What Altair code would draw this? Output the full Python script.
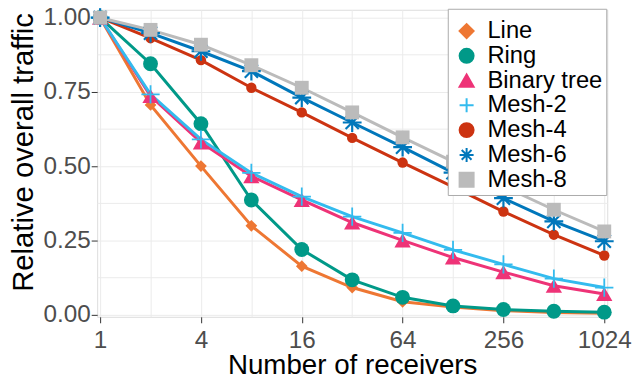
import altair as alt
import pandas as pd

receivers = [1, 2, 4, 8, 16, 32, 64, 128, 256, 512, 1024]
series_names = ["Line", "Ring", "Binary tree", "Mesh-2", "Mesh-4", "Mesh-6", "Mesh-8"]

line_vals = [1.0, 0.706, 0.500, 0.299, 0.163, 0.091, 0.043, 0.025, 0.013, 0.007, 0.004]
ring_vals = [1.0, 0.845, 0.643, 0.386, 0.219, 0.117, 0.058, 0.029, 0.017, 0.011, 0.008]
binary_vals = [1.0, 0.736, 0.580, 0.466, 0.386, 0.310, 0.250, 0.192, 0.143, 0.097, 0.069]
mesh2_vals = [1.0, 0.742, 0.590, 0.477, 0.397, 0.330, 0.275, 0.218, 0.169, 0.121, 0.091]
mesh4_vals = [1.0, 0.931, 0.857, 0.764, 0.681, 0.595, 0.512, 0.430, 0.347, 0.269, 0.199]
mesh6_vals = [1.0, 0.948, 0.887, 0.820, 0.731, 0.647, 0.564, 0.478, 0.392, 0.314, 0.247]
mesh8_vals = [1.0, 0.959, 0.909, 0.840, 0.764, 0.681, 0.597, 0.515, 0.432, 0.353, 0.280]

all_vals = [line_vals, ring_vals, binary_vals, mesh2_vals, mesh4_vals, mesh6_vals, mesh8_vals]

colors = ["#EE7733", "#009988", "#EE3377", "#33BBEE", "#CC3311", "#0077BB", "#BBBBBB"]
PLUS = "M-1,0L1,0M0,-1L0,1"
STAR = "M-1,0L1,0M0,-1L0,1M-0.7,-0.7L0.7,0.7M-0.7,0.7L0.7,-0.7"
shapes = ["diamond", "circle", "triangle-up", PLUS, "circle", STAR, "square"]
marker_sizes = [140, 225, 270, 340, 110, 360, 196]
marker_strokes = [0, 0, 0, 1.8, 0, 2.2, 0]

rows = []
for name, vals in zip(series_names, all_vals):
    for xv, yv in zip(receivers, vals):
        rows.append({"series": name, "receivers": xv, "traffic": yv})
df = pd.DataFrame(rows)

FONT = "Liberation Sans"

x_enc = alt.X(
    "receivers:Q",
    scale=alt.Scale(type="log", base=2, domain=[0.96, 1067], nice=False),
    axis=alt.Axis(
        title="Number of receivers",
        values=receivers,
        format="d",
        labelExpr="(round(log(datum.value)/log(2)) % 2 == 0) ? datum.label : ''",
        labelOverlap=False,
        labelFlush=False,
        grid=True,
        gridColor="#EBEBEB",
        gridWidth=1,
        domain=False,
        ticks=True,
        tickSize=6,
        tickColor="#333333",
        tickOpacity={"condition": {"test": "round(log(datum.value)/log(2)) % 2 == 0", "value": 1}, "value": 0},
        labelFont=FONT,
        labelFontSize=24.5,
        labelColor="#4D4D4D",
        labelBaseline="alphabetic",
        labelPadding=25,
        titleFont=FONT,
        titleFontSize=28,
        titleFontWeight="normal",
        titleColor="#000000",
        titleBaseline="alphabetic",
        titleY=57,
    ),
)

y_enc = alt.Y(
    "traffic:Q",
    scale=alt.Scale(domain=[-0.0077, 1.0267], nice=False, zero=False),
    axis=alt.Axis(
        title="Relative overall traffic",
        values=[0, 0.125, 0.25, 0.375, 0.5, 0.625, 0.75, 0.875, 1.0],
        labelExpr="(round(datum.value*8) % 2 == 0) ? format(datum.value, '.2f') : ''",
        labelOverlap=False,
        labelFlush=False,
        grid=True,
        gridColor="#EBEBEB",
        gridWidth=1,
        domain=False,
        ticks=True,
        tickSize=6,
        tickColor="#333333",
        tickOpacity={"condition": {"test": "round(datum.value*8) % 2 == 0", "value": 1}, "value": 0},
        labelFont=FONT,
        labelFontSize=24.5,
        labelColor="#4D4D4D",
        labelPadding=1,
        titleFont=FONT,
        titleFontSize=29.5,
        titleFontWeight="normal",
        titleColor="#000000",
        titleAngle=270,
        titleAlign="center",
        titleBaseline="alphabetic",
        titleX=-65.5,
        titleY=143.5,
    ),
)

color_scale = alt.Scale(domain=series_names, range=colors)
stroke_scale = alt.Scale(domain=series_names, range=colors)
shape_scale = alt.Scale(domain=series_names, range=shapes)

legend = alt.Legend(
    title=" ",
    titleFontSize=7.5,
    titlePadding=0,
    orient="none",
    legendX=354,
    legendY=-1,
    labelFont=FONT,
    labelFontSize=24,
    labelColor="#000000",
    labelOffset=9,
    padding=3,
    symbolOffset=4,
    rowPadding=1,
    symbolSize=200,
    symbolStrokeWidth=2,
    strokeColor="#AAAAAA",
    fillColor="#FFFFFF",
)

color_enc = alt.Color("series:N", scale=color_scale, sort=series_names, legend=legend)
stroke_enc = alt.Stroke("series:N", scale=stroke_scale, sort=series_names, legend=legend)
shape_enc = alt.Shape("series:N", scale=shape_scale, sort=series_names, legend=legend)

lines = alt.Chart(df).mark_line(strokeWidth=3).encode(
    x=x_enc,
    y=y_enc,
    color=color_enc,
    detail="series:N",
)

layers = [lines]
for name, sz, sw in zip(series_names, marker_sizes, marker_strokes):
    layers.append(
        alt.Chart(df)
        .transform_filter(alt.datum.series == name)
        .mark_point(filled=True, size=sz, strokeWidth=sw, opacity=1)
        .encode(x=x_enc, y=y_enc, color=color_enc, stroke=stroke_enc, shape=shape_enc)
    )

chart = alt.layer(*layers).properties(
    width=515,
    height=310,
    autosize=alt.AutoSizeParams(type="none"),
    padding={"left": 90, "top": 0, "right": 27, "bottom": 64},
).configure_view(
    stroke="#333333",
    strokeWidth=1.2,
).configure(background="#FFFFFF")

chart.save("out.html", embed_options={"renderer": "svg", "actions": False})
